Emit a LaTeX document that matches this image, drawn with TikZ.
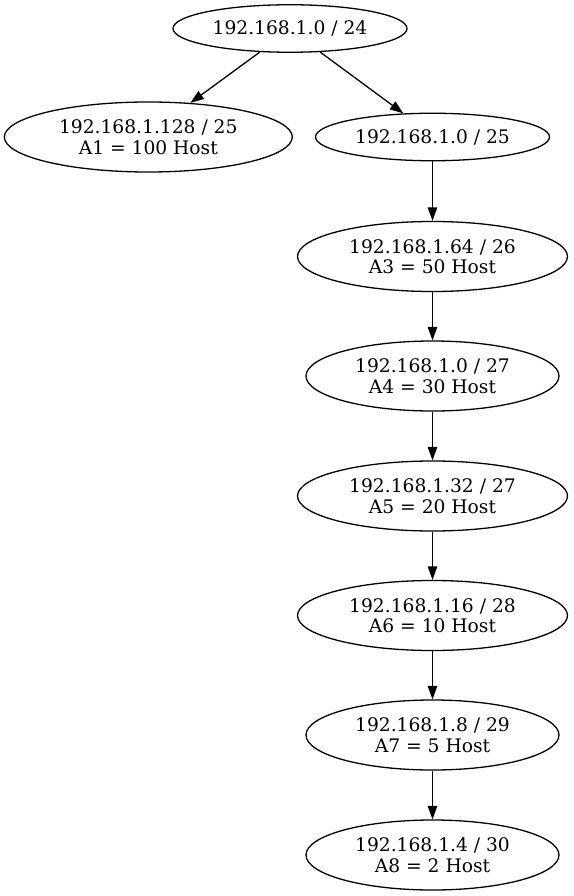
\documentclass[tikz,border=0pt]{standalone}
\usepackage{fontspec}
\setmainfont{DejaVu Serif}
\usetikzlibrary{shapes.geometric,arrows.meta}
\begin{document}
\begin{tikzpicture}[x=1pt,y=-1pt,
  net/.style={ellipse,draw,line width=1.3pt,inner sep=0pt,align=center,
    font=\fontsize{18.67}{20.5}\selectfont,minimum height=#1},
  net/.default=70pt,
  edge/.style={line width=1.3pt,-{Triangle[length=13.5pt,width=9.5pt]}}]
\useasboundingbox (0,0) rectangle (573,896);
\node[net=47.5pt,minimum width=234pt] (n24) at (290,28.5) {192.168.1.0 / 24};
\node[net,minimum width=288pt] (a1) at (148.3,137) {192.168.1.128 / 25\\A1 = 100 Host};
\node[net=47.5pt,minimum width=234pt] (n25) at (432.5,137) {192.168.1.0 / 25};
\node[net,minimum width=270pt] (a3) at (432.5,256.5) {192.168.1.64 / 26\\A3 = 50 Host};
\node[net,minimum width=253pt] (a4) at (432.5,376) {192.168.1.0 / 27\\A4 = 30 Host};
\node[net,minimum width=270pt] (a5) at (432.5,496) {192.168.1.32 / 27\\A5 = 20 Host};
\node[net,minimum width=270pt] (a6) at (432.5,615.5) {192.168.1.16 / 28\\A6 = 10 Host};
\node[net,minimum width=253pt] (a7) at (432.5,735) {192.168.1.8 / 29\\A7 = 5 Host};
\node[net,minimum width=253pt] (a8) at (432.5,855) {192.168.1.4 / 30\\A8 = 2 Host};
\draw[edge] (n24.218) -- (a1.39);
\draw[edge] (n24.322) -- (n25.141);
\draw[edge] (n25) -- (a3);
\draw[edge] (a3) -- (a4);
\draw[edge] (a4) -- (a5);
\draw[edge] (a5) -- (a6);
\draw[edge] (a6) -- (a7);
\draw[edge] (a7) -- (a8);
\end{tikzpicture}
\end{document}
